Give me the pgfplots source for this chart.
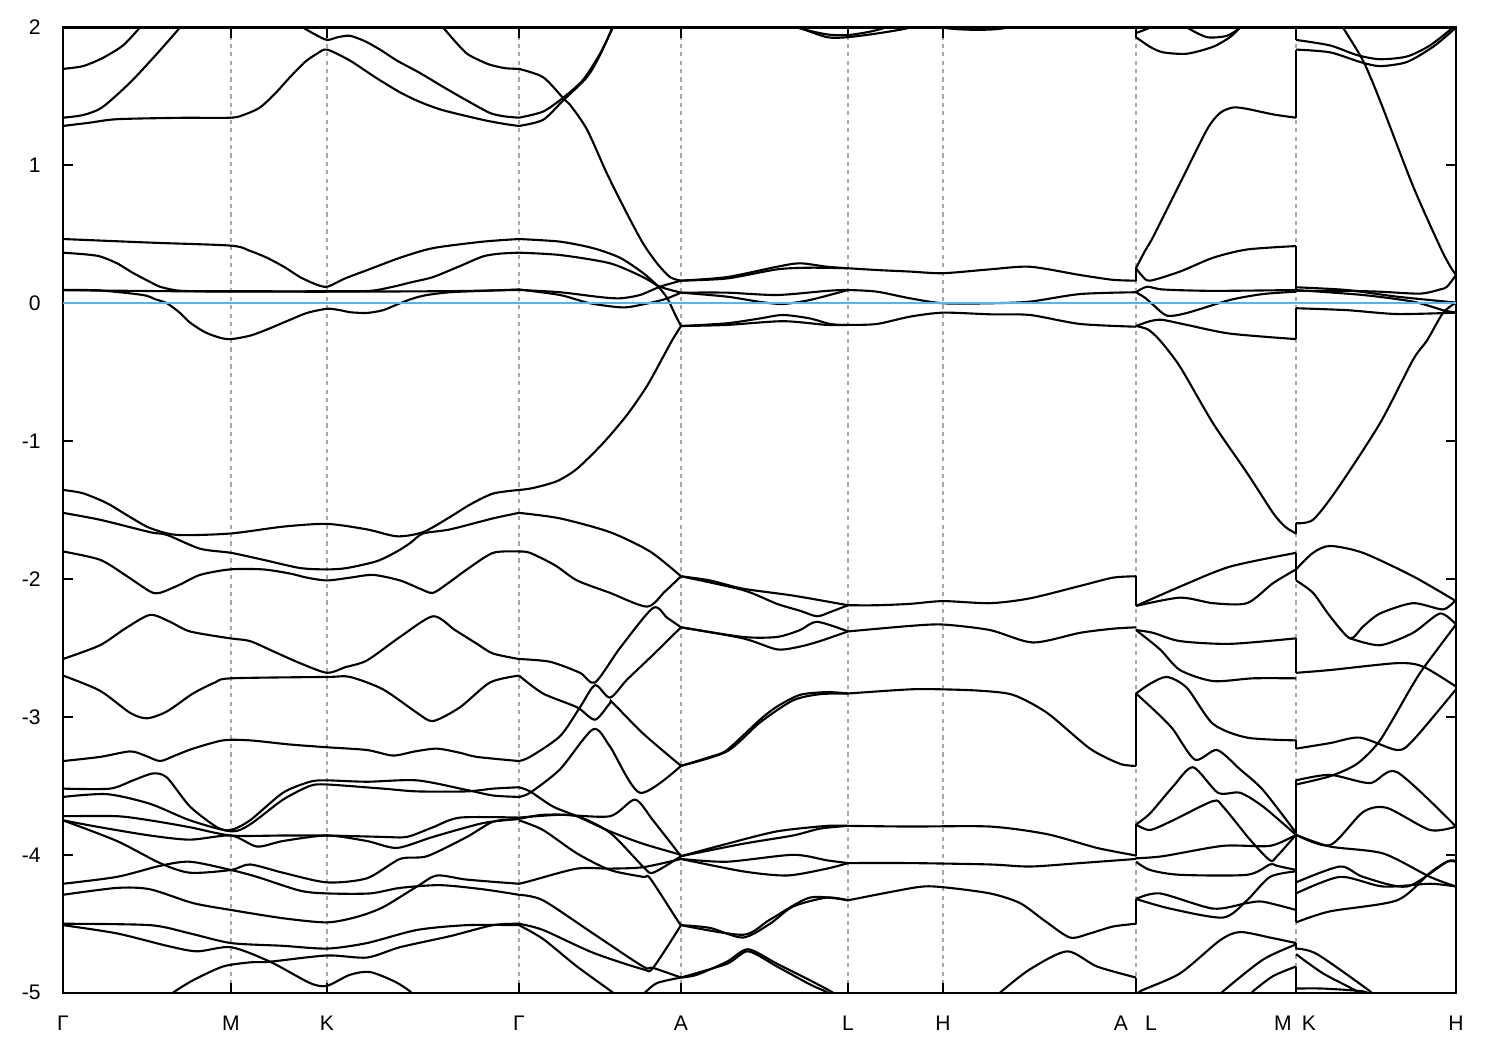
\documentclass[border=0pt]{standalone}
\usepackage{pgfplots}
\pgfplotsset{compat=1.18}
\usepackage{fontspec}
\setmainfont{Liberation Sans}
\definecolor{fermi}{RGB}{86,180,233}
\begin{document}
\begin{tikzpicture}
\path[use as bounding box] (-0.63cm,-0.573cm) rectangle (14.37cm,9.927cm);
\begin{axis}[
  scale only axis, width=13.93cm, height=9.652cm,
  xmin=63, xmax=1456, ymin=-5, ymax=2,
  axis line style={line width=0.6pt},
  xtick={63,231,327,519,681,848,943,1136,1296,1456},
  xticklabels={Γ,M,K,Γ,A,L,H,,,H},
  extra x ticks={1121,1151,1283,1309},
  extra x tick labels={A,L,M,K},
  extra x tick style={major tick length=0pt, grid=none},
  ytick={-5,-4,-3,-2,-1,0,1,2},
  yticklabels={-5,-4,-3,-2,-1,0,1,2},
  tick align=inside,
  major tick length=0.1cm,
  tick style={black, line width=0.6pt},
  ticklabel style={font=\fontsize{6}{7}\selectfont},
  xticklabel style={yshift=-0.11cm},
  yticklabel style={xshift=-0.1cm},
  xmajorgrids,
  grid style={gray!70, line width=0.35pt, dash pattern=on 1.2pt off 1.2pt},
  b/.style={black, line width=0.6pt, smooth, tension=0.45},
  j/.style={black, line width=0.6pt, sharp plot},
]
% ===== Gamma-M-K-Gamma : top =====
\addplot[b] coordinates {(63,1.70) (83,1.72) (103,1.78) (123,1.87) (140,2.0) (146,2.05)};
\addplot[b] coordinates {(63,1.346) (83,1.365) (102,1.42) (130,1.60) (157,1.81) (180,2.0) (184,2.04)};
\addplot[b] coordinates {(63,1.286) (90,1.31) (117,1.335) (180,1.345) (231,1.346) (245,1.37) (260,1.42) (275,1.52) (290,1.64) (305,1.75) (317,1.81) (327,1.84) (350,1.76) (375,1.64) (400,1.53) (420,1.46) (443,1.40) (483,1.33) (505,1.30) (519,1.286)};
\addplot[b] coordinates {(297,2.04) (303,2.0) (315,1.95) (327,1.91) (338,1.93) (350,1.94) (365,1.90) (380,1.84) (397,1.76) (420,1.67) (443,1.57) (467,1.47) (490,1.38) (505,1.355) (519,1.346)};
\addplot[b] coordinates {(437,2.04) (443,2.0) (455,1.90) (467,1.81) (480,1.76) (490,1.73) (505,1.705) (519,1.70)};
% ===== near Fermi =====
\addplot[b] coordinates {(63,0.466) (150,0.44) (231,0.418) (250,0.38) (267,0.33) (285,0.26) (300,0.19) (315,0.14) (327,0.12) (345,0.18) (367,0.24) (400,0.33) (433,0.40) (483,0.447) (519,0.466)};
\addplot[b] coordinates {(63,0.367) (85,0.355) (100,0.34) (117,0.29) (133,0.22) (150,0.155) (160,0.12) (175,0.095) (190,0.088) (231,0.087) (327,0.087) (370,0.09) (393,0.12) (413,0.155) (433,0.19) (460,0.27) (483,0.34) (500,0.36) (519,0.367)};
\addplot[b] coordinates {(63,0.095) (200,0.086) (327,0.084) (450,0.088) (519,0.097)};
\addplot[b] coordinates {(63,0.097) (100,0.093) (143,0.06) (155,0.03) (167,0.0) (180,-0.07) (190,-0.14) (205,-0.21) (220,-0.25) (231,-0.26) (250,-0.235) (267,-0.19) (290,-0.12) (307,-0.07) (327,-0.04) (340,-0.05) (350,-0.065) (367,-0.07) (383,-0.05) (400,0.0) (413,0.035) (427,0.06) (450,0.08) (483,0.09) (519,0.10)};
% ===== -1.3 .. -3.3 =====
\addplot[b] coordinates {(63,-1.354) (83,-1.378) (107,-1.45) (130,-1.55) (150,-1.63) (177,-1.68) (230,-1.67) (283,-1.62) (327,-1.60) (367,-1.64) (397,-1.69) (423,-1.66) (450,-1.55) (470,-1.46) (493,-1.38) (519,-1.354)};
\addplot[b] coordinates {(63,-1.52) (100,-1.57) (150,-1.66) (167,-1.68) (200,-1.78) (231,-1.81) (263,-1.86) (300,-1.92) (327,-1.93) (347,-1.92) (377,-1.87) (397,-1.80) (410,-1.74) (423,-1.67) (450,-1.64) (493,-1.56) (519,-1.52)};
\addplot[b] coordinates {(63,-1.80) (100,-1.86) (125,-1.97) (150,-2.09) (160,-2.10) (180,-2.04) (200,-1.97) (230,-1.93) (263,-1.93) (290,-1.96) (307,-1.99) (327,-2.01) (350,-1.99) (373,-1.97) (400,-2.01) (420,-2.07) (433,-2.10) (450,-2.02) (467,-1.93) (493,-1.81) (519,-1.80)};
\addplot[b] coordinates {(63,-2.58) (100,-2.48) (125,-2.36) (150,-2.26) (170,-2.31) (190,-2.38) (230,-2.43) (250,-2.45) (275,-2.53) (300,-2.61) (327,-2.68) (345,-2.64) (367,-2.59) (400,-2.42) (433,-2.27) (455,-2.37) (477,-2.47) (493,-2.54) (519,-2.58)};
\addplot[b] coordinates {(63,-2.70) (100,-2.81) (130,-2.97) (147,-3.01) (167,-2.96) (193,-2.83) (215,-2.75) (231,-2.72) (327,-2.71) (350,-2.71) (383,-2.80) (417,-2.97) (433,-3.03) (460,-2.93) (490,-2.75) (519,-2.70)};
\addplot[b] coordinates {(63,-3.32) (100,-3.29) (130,-3.25) (145,-3.28) (160,-3.32) (175,-3.28) (193,-3.23) (223,-3.17) (250,-3.17) (290,-3.20) (327,-3.22) (367,-3.24) (393,-3.28) (415,-3.25) (437,-3.23) (460,-3.26) (477,-3.29) (519,-3.32)};
% ===== -3.4 .. -5 =====
\addplot[b] coordinates {(63,-3.52) (110,-3.52) (133,-3.46) (153,-3.41) (167,-3.44) (190,-3.65) (217,-3.80) (231,-3.82) (250,-3.75) (283,-3.55) (310,-3.47) (327,-3.46) (367,-3.47) (417,-3.46) (467,-3.53) (493,-3.57) (519,-3.58)};
\addplot[b] coordinates {(63,-3.58) (107,-3.56) (150,-3.63) (190,-3.75) (231,-3.83) (250,-3.78) (283,-3.60) (310,-3.50) (327,-3.49) (383,-3.52) (417,-3.54) (467,-3.54) (493,-3.52) (519,-3.51)};
\addplot[b] coordinates {(63,-3.72) (117,-3.72) (150,-3.75) (190,-3.80) (231,-3.86) (283,-3.86) (327,-3.86) (383,-3.87) (407,-3.87) (433,-3.80) (460,-3.73) (519,-3.73)};
\addplot[b] coordinates {(63,-3.75) (100,-3.80) (150,-3.86) (190,-3.89) (231,-3.86) (257,-3.94) (283,-3.90) (327,-3.86) (367,-3.90) (397,-3.95) (433,-3.87) (483,-3.77) (519,-3.74)};
\addplot[b] coordinates {(63,-3.75) (117,-3.90) (160,-4.06) (190,-4.13) (231,-4.11) (250,-4.07) (283,-4.13) (327,-4.20) (367,-4.17) (400,-4.03) (427,-4.01) (467,-3.87) (493,-3.76) (519,-3.74)};
\addplot[b] coordinates {(63,-4.21) (117,-4.16) (160,-4.08) (190,-4.05) (231,-4.11) (257,-4.16) (300,-4.26) (327,-4.28) (370,-4.28) (400,-4.24) (440,-4.22) (483,-4.25) (519,-4.29)};
\addplot[b] coordinates {(63,-4.29) (117,-4.24) (150,-4.25) (193,-4.35) (231,-4.40) (283,-4.46) (327,-4.49) (357,-4.45) (383,-4.38) (417,-4.23) (437,-4.15) (467,-4.18) (519,-4.21)};
\addplot[b] coordinates {(63,-4.50) (150,-4.51) (190,-4.57) (231,-4.64) (283,-4.66) (327,-4.68) (367,-4.64) (417,-4.545) (467,-4.51) (519,-4.51)};
\addplot[b] coordinates {(63,-4.51) (117,-4.57) (167,-4.66) (197,-4.70) (231,-4.67) (270,-4.775) (310,-4.93) (327,-4.95) (350,-4.87) (370,-4.85) (395,-4.92) (410,-4.99) (415,-5.03)};
\addplot[b] coordinates {(170,-5.03) (173,-5.0) (193,-4.91) (223,-4.81) (250,-4.78) (270,-4.775) (327,-4.73) (367,-4.745) (400,-4.67) (450,-4.59) (493,-4.51) (519,-4.50)};
% ===== Gamma-A =====
\addplot[b] coordinates {(519,1.346) (543,1.39) (563,1.49) (583,1.62) (600,1.81) (613,2.0) (617,2.05)};
\addplot[b] coordinates {(519,1.286) (543,1.33) (563,1.47) (587,1.64) (600,1.80) (610,1.96) (614,2.04)};
\addplot[b] coordinates {(519,1.70) (543,1.64) (563,1.49) (570,1.44) (587,1.26) (607,0.94) (627,0.65) (643,0.435) (657,0.29) (670,0.19) (681,0.164)};
\addplot[b] coordinates {(519,0.466) (560,0.447) (593,0.40) (620,0.33) (643,0.22) (657,0.13) (667,0.04) (675,-0.08) (681,-0.165)};
\addplot[b] coordinates {(519,0.367) (560,0.35) (610,0.29) (643,0.19) (660,0.12) (681,0.077)};
\addplot[b] coordinates {(519,0.097) (560,0.08) (600,0.045) (620,0.036) (640,0.06) (660,0.12) (681,0.164)};
\addplot[b] coordinates {(519,0.10) (560,0.06) (590,0.0) (623,-0.03) (645,-0.005) (665,0.03) (681,0.077)};
\addplot[b] coordinates {(519,-1.354) (533,-1.34) (557,-1.29) (577,-1.20) (603,-1.015) (627,-0.81) (647,-0.60) (663,-0.39) (672,-0.27) (681,-0.165)};
\addplot[b] coordinates {(519,-1.52) (560,-1.56) (610,-1.66) (650,-1.80) (681,-1.98)};
\addplot[b] coordinates {(519,-1.80) (530,-1.81) (555,-1.90) (577,-2.01) (610,-2.10) (647,-2.20) (665,-2.09) (681,-1.98)};
\addplot[b] coordinates {(519,-2.58) (550,-2.60) (580,-2.68) (595,-2.75) (620,-2.50) (653,-2.21) (667,-2.28) (681,-2.35)};
\addplot[b] coordinates {(519,-3.32) (530,-3.29) (560,-3.14) (580,-2.93) (595,-2.77) (610,-2.86) (627,-2.73) (653,-2.55) (681,-2.35)};
\addplot[b] coordinates {(519,-2.70) (543,-2.83) (577,-2.93) (595,-3.02) (610,-2.90) (613,-2.90) (643,-3.12) (681,-3.355)};
\addplot[b] coordinates {(519,-3.51) (530,-3.54) (553,-3.65) (577,-3.72) (610,-3.83) (643,-3.92) (681,-4.0)};
\addplot[b] coordinates {(519,-3.58) (530,-3.55) (560,-3.38) (593,-3.09) (610,-3.215) (640,-3.55) (681,-3.355)};
\addplot[b] coordinates {(519,-3.73) (560,-3.71) (610,-3.72) (635,-3.60) (653,-3.75) (681,-4.01)};
\addplot[b] coordinates {(519,-3.74) (543,-3.71) (577,-3.72) (610,-3.84) (643,-4.085) (653,-4.13) (681,-4.01)};
\addplot[b] coordinates {(519,-3.75) (543,-3.82) (577,-3.99) (610,-4.11) (643,-4.16) (650,-4.17) (677,-4.47) (681,-4.51)};
\addplot[b] coordinates {(519,-4.21) (530,-4.19) (577,-4.10) (610,-4.10) (643,-4.09) (681,-4.03)};
\addplot[b] coordinates {(519,-4.29) (543,-4.33) (593,-4.57) (643,-4.81) (653,-4.82) (681,-4.89)};
\addplot[b] coordinates {(519,-4.50) (543,-4.545) (593,-4.71) (643,-4.83) (653,-4.82) (681,-4.51)};
\addplot[b] coordinates {(519,-4.51) (543,-4.61) (577,-4.81) (613,-5.0) (616,-5.03)};
\addplot[b] coordinates {(643,-5.03) (645,-5.0) (657,-4.93) (681,-4.89)};
% ===== A-L-H-A =====
\addplot[b] coordinates {(681,0.164) (727,0.19) (777,0.265) (800,0.29) (827,0.265) (848,0.254) (880,0.24) (910,0.23) (943,0.218) (990,0.246) (1030,0.265) (1080,0.205) (1113,0.17) (1136,0.164)};
\addplot[b] coordinates {(681,0.164) (727,0.18) (777,0.246) (810,0.258) (848,0.254)};
\addplot[b] coordinates {(681,0.077) (727,0.077) (777,0.06) (827,0.09) (848,0.096) (877,0.084) (910,0.036) (943,0.0) (990,0.0) (1030,0.012) (1080,0.067) (1136,0.08)};
\addplot[b] coordinates {(681,0.077) (727,0.048) (760,0.01) (783,-0.005) (810,0.024) (848,0.096)};
\addplot[b] coordinates {(681,-0.165) (727,-0.145) (760,-0.11) (783,-0.085) (810,-0.11) (830,-0.15) (848,-0.157) (877,-0.15) (910,-0.097) (943,-0.068) (990,-0.08) (1030,-0.085) (1080,-0.15) (1136,-0.17)};
\addplot[b] coordinates {(681,-0.165) (727,-0.157) (783,-0.13) (827,-0.157) (848,-0.157)};
\addplot[b] coordinates {(795,2.05) (800,2.0) (827,1.93) (848,1.93) (880,1.96) (910,2.0) (915,2.05)};
\addplot[b] coordinates {(790,2.05) (797,2.0) (827,1.95) (848,1.945) (870,1.97) (885,2.0) (890,2.05)};
\addplot[b] coordinates {(935,2.05) (943,2.0) (965,1.985) (990,1.985) (1007,2.0) (1012,2.05)};
\addplot[b] coordinates {(681,-1.98) (710,-2.01) (743,-2.07) (793,-2.12) (848,-2.19)};
\addplot[b] coordinates {(681,-1.98) (743,-2.08) (777,-2.18) (800,-2.23) (817,-2.27) (830,-2.24) (848,-2.19)};
\addplot[b] coordinates {(848,-2.19) (877,-2.19) (910,-2.18) (943,-2.16) (990,-2.175) (1030,-2.14) (1080,-2.05) (1113,-1.99) (1136,-1.98)};
\addplot[b] coordinates {(681,-2.35) (743,-2.42) (777,-2.42) (800,-2.37) (817,-2.31) (848,-2.38)};
\addplot[b] coordinates {(681,-2.35) (743,-2.43) (777,-2.51) (800,-2.49) (820,-2.45) (848,-2.38)};
\addplot[b] coordinates {(848,-2.38) (910,-2.34) (943,-2.33) (990,-2.37) (1033,-2.46) (1080,-2.39) (1113,-2.36) (1136,-2.35)};
\addplot[b] coordinates {(681,-3.355) (710,-3.29) (727,-3.24) (760,-3.02) (777,-2.925) (800,-2.84) (827,-2.82) (848,-2.83)};
\addplot[b] coordinates {(681,-3.355) (727,-3.25) (760,-3.04) (793,-2.88) (820,-2.835) (848,-2.83)};
\addplot[b] coordinates {(848,-2.83) (910,-2.80) (943,-2.80) (980,-2.81) (1013,-2.84) (1047,-2.97) (1090,-3.23) (1120,-3.34) (1136,-3.355)};
\addplot[b] coordinates {(681,-4.01) (727,-3.92) (777,-3.83) (827,-3.79) (848,-3.79)};
\addplot[b] coordinates {(681,-4.01) (743,-3.92) (793,-3.86) (820,-3.81) (848,-3.79)};
\addplot[b] coordinates {(848,-3.79) (910,-3.795) (990,-3.795) (1047,-3.85) (1097,-3.95) (1136,-4.005)};
\addplot[b] coordinates {(681,-4.03) (727,-4.05) (793,-4.00) (827,-4.04) (848,-4.06)};
\addplot[b] coordinates {(681,-4.03) (743,-4.12) (787,-4.15) (827,-4.10) (848,-4.06)};
\addplot[b] coordinates {(848,-4.06) (910,-4.06) (990,-4.07) (1030,-4.085) (1080,-4.06) (1136,-4.03)};
\addplot[b] coordinates {(681,-4.51) (710,-4.53) (743,-4.60) (770,-4.50) (793,-4.375) (827,-4.31) (848,-4.33)};
\addplot[b] coordinates {(681,-4.51) (743,-4.58) (770,-4.47) (810,-4.31) (848,-4.33)};
\addplot[b] coordinates {(848,-4.33) (917,-4.235) (943,-4.235) (990,-4.28) (1020,-4.35) (1045,-4.48) (1070,-4.60) (1090,-4.57) (1113,-4.52) (1136,-4.50)};
\addplot[b] coordinates {(681,-4.89) (697,-4.87) (727,-4.775) (748,-4.685) (777,-4.79) (810,-4.91) (833,-5.0) (840,-5.05)};
\addplot[b] coordinates {(681,-4.89) (727,-4.79) (748,-4.70) (777,-4.81) (810,-4.94) (828,-5.0) (835,-5.05)};
\addplot[b] coordinates {(995,-5.05) (1000,-5.0) (1030,-4.83) (1067,-4.70) (1097,-4.81) (1136,-4.89)};
% ===== L-M =====
\addplot[b] coordinates {(1136,0.254) (1145,0.38) (1153,0.48) (1180,0.87) (1207,1.26) (1220,1.38) (1233,1.42) (1247,1.41) (1273,1.37) (1296,1.346)};
\addplot[b] coordinates {(1136,0.254) (1142,0.20) (1150,0.164) (1180,0.23) (1213,0.33) (1247,0.39) (1296,0.415)};
\addplot[b] coordinates {(1136,0.08) (1147,0.12) (1163,0.10) (1213,0.09) (1296,0.096)};
\addplot[b] coordinates {(1136,0.08) (1145,0.04) (1153,-0.01) (1167,-0.09) (1187,-0.07) (1230,0.024) (1263,0.067) (1296,0.084)};
\addplot[b] coordinates {(1136,-0.165) (1150,-0.13) (1162,-0.12) (1187,-0.157) (1230,-0.22) (1296,-0.26)};
\addplot[b] coordinates {(1136,-0.165) (1148,-0.19) (1160,-0.27) (1180,-0.46) (1213,-0.87) (1247,-1.23) (1273,-1.52) (1285,-1.62) (1296,-1.67)};
\addplot[b] coordinates {(1136,1.93) (1150,1.86) (1163,1.82) (1187,1.81) (1213,1.86) (1230,1.93) (1240,2.0) (1245,2.05)};
\addplot[b] coordinates {(1136,1.96) (1150,2.0) (1155,2.05)};
\addplot[b] coordinates {(1180,2.05) (1187,2.0) (1207,1.93) (1227,1.94) (1240,2.0) (1243,2.05)};
\addplot[b] coordinates {(1136,-2.195) (1180,-2.055) (1230,-1.91) (1296,-1.81)};
\addplot[b] coordinates {(1136,-2.195) (1180,-2.135) (1213,-2.175) (1247,-2.175) (1273,-2.03) (1296,-1.93)};
\addplot[b] coordinates {(1136,-2.37) (1153,-2.39) (1180,-2.45) (1230,-2.47) (1296,-2.43)};
\addplot[b] coordinates {(1136,-2.37) (1160,-2.51) (1180,-2.66) (1213,-2.74) (1253,-2.72) (1296,-2.72)};
\addplot[b] coordinates {(1136,-2.83) (1150,-2.76) (1167,-2.71) (1187,-2.79) (1213,-3.05) (1247,-3.15) (1296,-3.17)};
\addplot[b] coordinates {(1136,-2.83) (1157,-2.97) (1173,-3.09) (1195,-3.31) (1217,-3.24) (1240,-3.38) (1263,-3.53) (1296,-3.84)};
\addplot[b] coordinates {(1136,-3.78) (1150,-3.70) (1173,-3.505) (1193,-3.365) (1218,-3.55) (1240,-3.55) (1263,-3.65) (1296,-3.855)};
\addplot[b] coordinates {(1136,-3.78) (1150,-3.82) (1173,-3.75) (1213,-3.61) (1223,-3.65) (1250,-3.89) (1270,-4.04) (1277,-4.01) (1296,-3.855)};
\addplot[b] coordinates {(1136,-4.025) (1163,-4.01) (1223,-3.935) (1270,-3.935) (1296,-3.855)};
\addplot[b] coordinates {(1136,-4.05) (1150,-4.11) (1180,-4.145) (1247,-4.145) (1270,-4.07) (1277,-4.08) (1296,-4.11)};
\addplot[b] coordinates {(1136,-4.32) (1160,-4.28) (1213,-4.39) (1247,-4.35) (1263,-4.34) (1296,-4.40)};
\addplot[b] coordinates {(1136,-4.32) (1170,-4.39) (1223,-4.455) (1247,-4.33) (1270,-4.16) (1296,-4.12)};
\addplot[b] coordinates {(1138,-5.03) (1140,-4.99) (1180,-4.86) (1220,-4.62) (1240,-4.56) (1270,-4.60) (1296,-4.64)};
\addplot[b] coordinates {(1220,-5.03) (1223,-4.99) (1263,-4.76) (1296,-4.65)};
\addplot[b] coordinates {(1250,-5.03) (1253,-4.99) (1273,-4.88) (1296,-4.81)};
% ===== K-H =====
\addplot[b] coordinates {(1296,1.91) (1330,1.87) (1357,1.80) (1380,1.77) (1407,1.79) (1430,1.87) (1453,2.0) (1457,2.03)};
\addplot[b] coordinates {(1296,1.84) (1330,1.82) (1360,1.75) (1380,1.72) (1407,1.75) (1433,1.86) (1453,1.98) (1457,2.01)};
\addplot[b] coordinates {(1340,2.05) (1343,2.0) (1363,1.76) (1380,1.47) (1413,0.85) (1440,0.41) (1450,0.27) (1456,0.205)};
\addplot[b] coordinates {(1296,0.09) (1347,0.09) (1380,0.084) (1420,0.07) (1440,0.10) (1447,0.12) (1456,0.205)};
\addplot[b] coordinates {(1296,0.116) (1347,0.096) (1397,0.048) (1456,0.005)};
\addplot[b] coordinates {(1296,0.096) (1363,0.06) (1413,0.012) (1443,-0.05) (1456,-0.068)};
\addplot[b] coordinates {(1296,-0.036) (1347,-0.05) (1397,-0.078) (1456,-0.068)};
\addplot[b] coordinates {(1296,-1.595) (1313,-1.57) (1337,-1.35) (1380,-0.87) (1413,-0.41) (1427,-0.27) (1443,-0.07) (1456,0.005)};
\addplot[b] coordinates {(1296,-1.93) (1313,-1.81) (1330,-1.76) (1363,-1.81) (1413,-1.98) (1456,-2.16)};
\addplot[b] coordinates {(1296,-2.01) (1313,-2.10) (1330,-2.27) (1350,-2.43) (1363,-2.345) (1380,-2.25) (1413,-2.175) (1443,-2.22) (1456,-2.15)};
\addplot[b] coordinates {(1296,-2.68) (1330,-2.66) (1397,-2.61) (1423,-2.635) (1456,-2.78)};
\addplot[b] coordinates {(1350,-2.43) (1380,-2.48) (1413,-2.39) (1440,-2.25) (1456,-2.33)};
\addplot[b] coordinates {(1296,-3.49) (1330,-3.43) (1357,-3.34) (1380,-3.17) (1410,-2.80) (1423,-2.65) (1456,-2.33)};
\addplot[b] coordinates {(1296,-3.23) (1330,-3.19) (1360,-3.15) (1397,-3.24) (1413,-3.17) (1456,-2.80)};
\addplot[b] coordinates {(1296,-3.46) (1330,-3.42) (1370,-3.48) (1397,-3.40) (1456,-3.795)};
\addplot[b] coordinates {(1296,-3.855) (1330,-3.93) (1363,-3.69) (1387,-3.66) (1430,-3.82) (1456,-3.795)};
\addplot[b] coordinates {(1296,-3.855) (1330,-3.94) (1383,-3.99) (1430,-4.16) (1456,-4.23)};
\addplot[b] coordinates {(1296,-4.20) (1340,-4.085) (1363,-4.16) (1407,-4.23) (1447,-4.05) (1456,-4.05)};
\addplot[b] coordinates {(1296,-4.28) (1340,-4.16) (1383,-4.23) (1430,-4.21) (1456,-4.23)};
\addplot[b] coordinates {(1296,-4.49) (1330,-4.41) (1397,-4.33) (1430,-4.13) (1447,-4.05) (1456,-4.05)};
\addplot[b] coordinates {(1296,-4.68) (1317,-4.72) (1370,-4.99) (1372,-5.03)};
\addplot[b] coordinates {(1296,-4.72) (1323,-4.86) (1357,-4.99) (1360,-5.03)};
\addplot[b] coordinates {(1296,-4.97) (1323,-4.97) (1363,-4.99) (1370,-5.02)};
% ===== jumps at A|L and M|K =====
\addplot[j] coordinates {(1136,0.164) (1136,0.254)};
\addplot[j] coordinates {(1136,2.05) (1136,1.93)};
\addplot[j] coordinates {(1136,-1.98) (1136,-2.195)};
\addplot[j] coordinates {(1136,-3.355) (1136,-2.83)};
\addplot[j] coordinates {(1136,-4.005) (1136,-3.78)};
\addplot[j] coordinates {(1136,-4.50) (1136,-4.32)};
\addplot[j] coordinates {(1136,-4.89) (1136,-5.05)};
\addplot[j] coordinates {(1296,2.05) (1296,1.91)};
\addplot[j] coordinates {(1296,1.346) (1296,1.84)};
\addplot[j] coordinates {(1296,0.415) (1296,0.09)};
\addplot[j] coordinates {(1296,-0.26) (1296,-0.036)};
\addplot[j] coordinates {(1296,-1.67) (1296,-1.595)};
\addplot[j] coordinates {(1296,-1.81) (1296,-2.01)};
\addplot[j] coordinates {(1296,-2.43) (1296,-2.68)};
\addplot[j] coordinates {(1296,-3.17) (1296,-3.23)};
\addplot[j] coordinates {(1296,-3.46) (1296,-4.49)};
\addplot[j] coordinates {(1296,-4.64) (1296,-4.68)};
\addplot[j] coordinates {(1296,-4.81) (1296,-4.97)};
% ===== Fermi level =====
\addplot[fermi, line width=0.6pt, sharp plot] coordinates {(63,0) (1456,0)};
\end{axis}
\end{tikzpicture}
\end{document}
